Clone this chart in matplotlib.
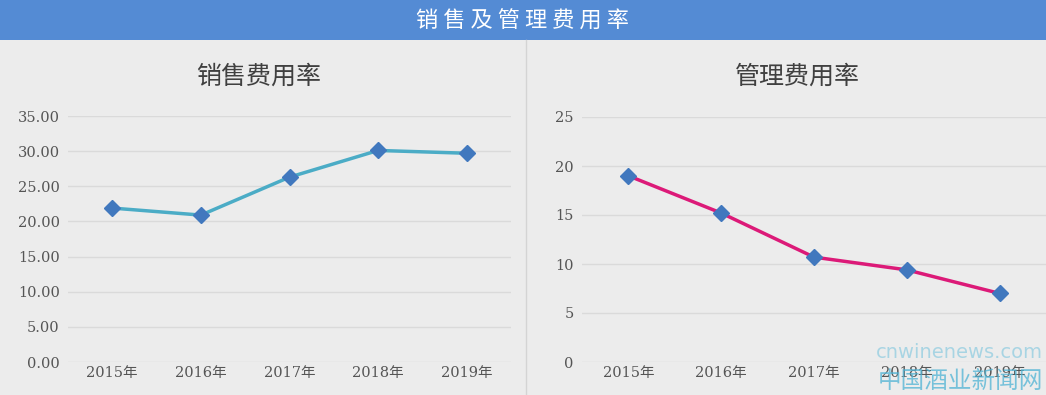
import matplotlib.pyplot as plt
from matplotlib.patches import Rectangle

plt.rcParams['font.family'] = ['DejaVu Serif', 'Noto Sans CJK SC', 'DejaVu Sans']

# 数据
years = ["2015年", "2016年", "2017年", "2018年", "2019年"]
sales_rate = [21.9, 20.9, 26.3, 30.1, 29.7]
admin_rate = [19.0, 15.2, 10.7, 9.4, 7.0]

W, H = 1046, 395
fig = plt.figure(figsize=(W / 100, H / 100), dpi=100)
fig.patch.set_facecolor("#ececec")

# 顶部标题栏
fig.patches.append(Rectangle((0, 1 - 40 / H), 1, 40 / H, transform=fig.transFigure,
                             facecolor="#548bd4", edgecolor="none", zorder=0))
fig.text(0.5, 1 - 21 / H, "销 售 及 管 理 费 用 率", color="white", fontsize=16,
         ha="center", va="center", family=["Noto Sans CJK SC"])
# 中间分隔线
fig.add_artist(plt.Line2D([526 / W, 526 / W], [0, 1 - 40 / H], color="#d4d4d4", lw=1))


def fx(px):
    return px / W


def fy(py):
    return 1 - py / H


def panel(left, right, top, bottom, title, title_x, values, ymax, step, fmt, line_color):
    ax = fig.add_axes([fx(left), fy(bottom), fx(right - left), fy(top) - fy(bottom)])
    ax.set_facecolor("none")
    x = range(len(years))
    ax.plot(x, values, color=line_color, lw=2.5, zorder=3)
    ax.plot(x, values, ls="none", marker="D", ms=8, color="#4178be", zorder=4)
    ax.set_xlim(-0.5, len(years) - 0.5)
    ax.set_ylim(0, ymax)
    ticks = [i * step for i in range(int(ymax / step) + 1)]
    ax.set_yticks(ticks)
    ax.set_yticklabels([fmt.format(t) for t in ticks])
    ax.set_xticks(list(x))
    ax.set_xticklabels(years)
    ax.grid(axis="y", color="#dadada", lw=1)
    ax.set_axisbelow(True)
    for s in ax.spines.values():
        s.set_visible(False)
    ax.tick_params(length=0, labelsize=10.5, colors="#555555", pad=6)
    ax.tick_params(axis="x", pad=3)
    fig.text(fx(title_x), fy(77), title, fontsize=18, color="#404040",
             ha="center", va="center", family=["Noto Sans CJK SC"])
    return ax


panel(68, 511, 116, 362, "销售费用率", 259, sales_rate, 35, 5, "{:.2f}", "#4bacc6")
panel(582, 1046, 117, 362, "管理费用率", 797, admin_rate, 25, 5, "{:.0f}", "#dc1a78")

# 水印
fig.text(fx(1043), fy(352), "cnwinenews.com", fontsize=14, color="#8ccbe0", alpha=0.7,
         ha="right", va="center", family=["DejaVu Sans"], zorder=0)
fig.text(fx(1043), fy(381), "中国酒业新闻网", fontsize=17, color="#4fb3d4", alpha=0.75,
         ha="right", va="center", family=["Noto Sans CJK SC"], zorder=0)

plt.savefig("out.png", dpi=100, facecolor=fig.get_facecolor())
